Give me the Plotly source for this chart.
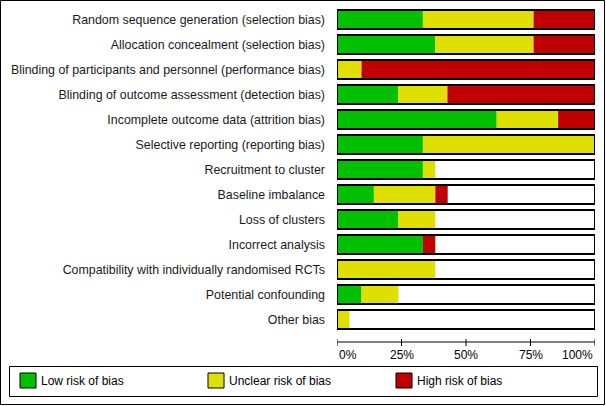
import plotly.graph_objects as go

categories = [
    "Random sequence generation (selection bias)",
    "Allocation concealment (selection bias)",
    "Blinding of participants and personnel (performance bias)",
    "Blinding of outcome assessment (detection bias)",
    "Incomplete outcome data (attrition bias)",
    "Selective reporting (reporting bias)",
    "Recruitment to cluster",
    "Baseline imbalance",
    "Loss of clusters",
    "Incorrect analysis",
    "Compatibility with individually randomised RCTs",
    "Potential confounding",
    "Other bias",
]
low = [33.3, 38.1, 0.0, 23.8, 61.9, 33.3, 33.3, 14.3, 23.8, 33.3, 0.0, 9.5, 0.0]
unclear = [42.9, 38.1, 9.5, 19.0, 23.8, 66.7, 4.8, 23.8, 14.3, 0.0, 38.1, 14.3, 4.8]
high = [23.8, 23.8, 90.5, 57.1, 14.3, 0.0, 0.0, 4.8, 0.0, 4.8, 0.0, 0.0, 0.0]

tick_vals = [0, 25, 50, 75, 100]
tick_text = ["0%", "25%", "50%", "75%", "100%"]
tick_anchor = ["left", "center", "center", "center", "right"]

legend_names = ["Low risk of bias", "Unclear risk of bias", "High risk of bias"]
colors = ["#00C000", "#E0E000", "#C00000"]

FONT = "Liberation Sans, Arial, sans-serif"

base_unclear = low
base_high = [a + b for a, b in zip(low, unclear)]

fig = go.Figure()
for vals, base, col, name in [
    (low, [0] * len(low), colors[0], legend_names[0]),
    (unclear, base_unclear, colors[1], legend_names[1]),
    (high, base_high, colors[2], legend_names[2]),
]:
    fig.add_trace(go.Bar(
        y=categories, x=vals, base=base, orientation="h", name=name,
        marker=dict(color=col, line=dict(width=0)), width=0.76,
        showlegend=False, hoverinfo="skip",
    ))
# outline of each full bar
fig.add_trace(go.Bar(
    y=categories, x=[100] * len(categories), base=[0] * len(categories),
    orientation="h", width=0.76,
    marker=dict(color="rgba(0,0,0,0)", line=dict(color="black", width=2)),
    showlegend=False, hoverinfo="skip",
))

# plot area geometry (pixels)
W, H = 606, 406
L, R, T = 337, 11, 7
plot_w = W - L - R
plot_bottom = 332
plot_h = plot_bottom - T
B = H - plot_bottom


def px(xp):
    return (xp - L) / plot_w


def py(yp):
    return (plot_bottom - yp) / plot_h


shapes = []
# outer frame
shapes.append(dict(type="rect", xref="paper", yref="paper",
                   x0=px(0.5), x1=px(604.5), y0=py(0.5), y1=py(404.5),
                   line=dict(color="black", width=1)))
# axis line
shapes.append(dict(type="line", xref="x", yref="paper",
                   x0=0, x1=100, y0=py(342), y1=py(342),
                   line=dict(color="black", width=1)))
for tv in tick_vals:
    shapes.append(dict(type="line", xref="x", yref="paper",
                       x0=tv, x1=tv, y0=py(339), y1=py(346),
                       line=dict(color="black", width=1)))
# legend box
shapes.append(dict(type="rect", xref="paper", yref="paper",
                   x0=px(9.5), x1=px(597.5), y0=py(366.5), y1=py(396.5),
                   line=dict(color="black", width=1)))

annotations = []
for tv, tt, anc in zip(tick_vals, tick_text, tick_anchor):
    annotations.append(dict(x=tv, y=py(346), xref="x", yref="paper",
                            text=tt, showarrow=False, xanchor=anc, yanchor="top",
                            font=dict(family=FONT, size=12, color="black")))

legend_x = [20, 208, 396]
for lx, name, col in zip(legend_x, legend_names, colors):
    shapes.append(dict(type="rect", xref="paper", yref="paper",
                       x0=px(lx), x1=px(lx + 16), y0=py(373), y1=py(388),
                       fillcolor=col, line=dict(color="black", width=1)))
    annotations.append(dict(x=px(lx + 19), y=py(380.5), xref="paper", yref="paper",
                            text=name, showarrow=False, xanchor="left", yanchor="middle",
                            font=dict(family=FONT, size=12, color="black")))

fig.update_layout(
    width=W, height=H,
    margin=dict(l=L, r=R, t=T, b=B, pad=0),
    barmode="overlay",
    paper_bgcolor="white", plot_bgcolor="white",
    font=dict(family=FONT, size=12, color="black"),
    xaxis=dict(range=[0, 100], showgrid=False, zeroline=False, showline=False,
               showticklabels=False, ticks="", fixedrange=True),
    yaxis=dict(autorange=False, range=[12.5, -0.5], showgrid=False, zeroline=False,
               showline=False, ticks="", ticklabelstandoff=11,
               tickfont=dict(family=FONT, size=12.4, color="#1a1a1a"),
               categoryorder="array", categoryarray=categories, fixedrange=True),
    shapes=shapes,
    annotations=annotations,
    showlegend=False,
)

fig.write_html(
    "out.html",
    config={"displayModeBar": False},
    post_script="document.body.style.margin='0px';document.body.style.overflow='hidden';",
)
